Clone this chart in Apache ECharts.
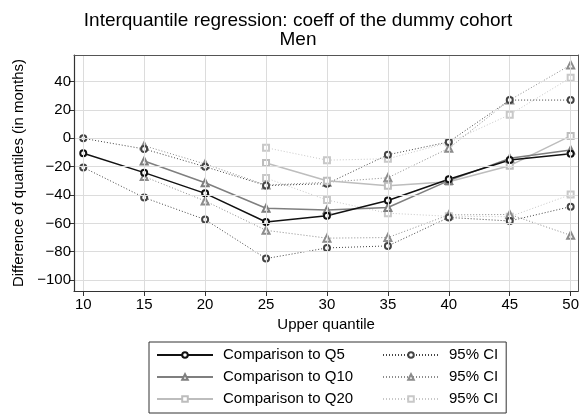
<!DOCTYPE html>
<html>
<head>
<meta charset="utf-8">
<script src="https://cdn.jsdelivr.net/npm/echarts@6/dist/echarts.min.js"></script>
<style>html,body{margin:0;padding:0;background:#fff}#c{width:582px;height:414px}</style>
</head>
<body>
<div id="c"></div>
<script>
// ---- data ----
const quantiles = [10, 15, 20, 25, 30, 35, 40, 45, 50];
const q5Coef  = [-10.5, -24.2, -38.8, -59.0, -54.6, -43.8, -28.9, -15.3, -10.8];
const q5Upper = [0, -7.5, -20.0, -33.3, -32.0, -11.6, -2.5, 27.0, 27.0];
const q5Lower = [-20.5, -41.8, -57.3, -84.8, -77.3, -75.9, -55.8, -58.3, -48.2];
const q10Coef  = [null, -16.0, -31.3, -49.3, -50.6, -48.8, -29.8, -14.1, -8.2];
const q10Upper = [null, -5.2, -18.1, -33.0, -31.0, -27.8, -7.0, 27.0, 51.8];
const q10Lower = [null, -27.0, -44.2, -64.9, -70.4, -70.0, -54.0, -53.7, -68.4];
const q20Coef  = [null, null, null, -17.4, -29.9, -33.4, -30.6, -19.3, 1.7];
const q20Upper = [null, null, null, -6.6, -15.4, -14.4, -3.0, 16.7, 42.8];
const q20Lower = [null, null, null, -28.0, -43.5, -52.8, -55.0, -55.3, -39.7];
const xTicks = [10, 15, 20, 25, 30, 35, 40, 45, 50];
const yTicks = [-100, -80, -60, -40, -20, 0, 20, 40];

const FONT = 'Liberation Sans, Arial, sans-serif';
function pairs(arr) {
  return quantiles.map((q, i) => [q, arr[i]]).filter(p => p[1] !== null);
}
function mainSeries(name, arr, color, symbol, size, z) {
  return {
    name, type: 'line', data: pairs(arr), z,
    symbol, symbolSize: size, showSymbol: true,
    lineStyle: { color, width: 1.5, type: 'solid' },
    itemStyle: { color, borderColor: color, borderWidth: 1.3 },
    emphasis: { disabled: true }
  };
}
function ciSeries(name, arr, color, symbol, size, z) {
  return {
    name, type: 'line', data: pairs(arr), z,
    symbol, symbolSize: size, showSymbol: true,
    lineStyle: { color, width: 1, type: [1, 2] },
    itemStyle: { color, borderColor: color, borderWidth: 1.3 },
    emphasis: { disabled: true }
  };
}
const C5 = '#111111', C10 = '#7f7f7f', C20 = '#bdbdbd';
const CI5 = '#444444', CI10 = '#8c8c8c', CI20 = '#c8c8c8';
const GRIDC = '#dcdcdc';

const fmtMinus = v => String(v).replace('-', '\u2212');

const option = {
  animation: false,
  backgroundColor: '#fff',
  title: {
    text: 'Interquantile regression: coeff of the dummy cohort\nMen',
    left: 293, top: 6, textAlign: 'center',
    textStyle: { fontFamily: FONT, fontSize: 19, fontWeight: 'normal', color: '#000', lineHeight: 19 }
  },
  grid: {
    left: 74, right: 2, top: 55, bottom: 123,
    show: false
  },
  xAxis: [{
    type: 'value', min: 9.24, max: 50.62, z: 5,
    name: 'Upper quantile', nameLocation: 'middle', nameGap: 24,
    nameTextStyle: { fontFamily: FONT, fontSize: 15, color: '#000' },
    axisLine: { show: true, onZero: false, lineStyle: { color: '#333', width: 1.2 } },
    axisTick: { show: true, customValues: xTicks, length: 5, lineStyle: { color: '#333' } },
    axisLabel: { customValues: xTicks, margin: 6, fontFamily: FONT, fontSize: 15, color: '#000' },
    splitLine: { show: true, lineStyle: { color: GRIDC, width: 1 } }
  }, {
    type: 'value', min: 9.24, max: 50.62, position: 'top', z: 5,
    axisLine: { show: true, onZero: false, lineStyle: { color: '#555', width: 1 } },
    axisTick: { show: false }, axisLabel: { show: false }, splitLine: { show: false }
  }],
  yAxis: [{
    type: 'value', min: -107.7, max: 58.8, z: 5,
    name: 'Difference of quantiles (in months)', nameLocation: 'middle', nameGap: 48,
    nameTextStyle: { fontFamily: FONT, fontSize: 15, color: '#000' },
    axisLine: { show: true, onZero: false, lineStyle: { color: '#333', width: 1.2 } },
    axisTick: { show: true, customValues: yTicks, length: 5, lineStyle: { color: '#333' } },
    axisLabel: { customValues: yTicks, margin: 3, fontFamily: FONT, fontSize: 15, color: '#000', formatter: fmtMinus },
    splitLine: { show: true, lineStyle: { color: GRIDC, width: 1 } }
  }, {
    type: 'value', min: -107.7, max: 58.8, position: 'right', z: 5,
    axisLine: { show: true, onZero: false, lineStyle: { color: '#555', width: 1 } },
    axisTick: { show: false }, axisLabel: { show: false }, splitLine: { show: false }
  }],
  legend: {
    left: 149, top: 342, orient: 'horizontal', width: 350,
    padding: [4, 8, 5, 7], itemGap: 4, itemWidth: 56, itemHeight: 7,
    borderColor: '#333', borderWidth: 1, borderRadius: 0,
    selectedMode: false,
    formatter: n => n.trim(),
    textStyle: { fontFamily: FONT, fontSize: 15, color: '#000', lineHeight: 18, padding: [0, 0, 0, 5] },
    data: [
      { name: 'Comparison to Q5', textStyle: { width: 155 } },
      { name: '95% CI' },
      { name: 'Comparison to Q10', textStyle: { width: 155 } },
      { name: '95% CI ' },
      { name: 'Comparison to Q20', textStyle: { width: 155 } },
      { name: '95% CI  ' }
    ]
  },
  series: [
    ciSeries('95% CI  ', q20Upper, CI20, 'emptyRect', 6, 2),
    ciSeries('95% CI  ', q20Lower, CI20, 'emptyRect', 6, 2),
    ciSeries('95% CI ', q10Upper, CI10, 'emptyTriangle', 7, 2),
    ciSeries('95% CI ', q10Lower, CI10, 'emptyTriangle', 7, 2),
    ciSeries('95% CI', q5Upper, CI5, 'emptyCircle', 6, 2),
    ciSeries('95% CI', q5Lower, CI5, 'emptyCircle', 6, 2),
    mainSeries('Comparison to Q20', q20Coef, C20, 'emptyRect', 6, 3),
    mainSeries('Comparison to Q10', q10Coef, C10, 'emptyTriangle', 7, 3),
    mainSeries('Comparison to Q5', q5Coef, C5, 'emptyCircle', 6, 3)
  ]
};
const chart = echarts.init(document.getElementById('c'), null, { renderer: 'canvas' });
chart.setOption(option);
</script>
</body>
</html>
